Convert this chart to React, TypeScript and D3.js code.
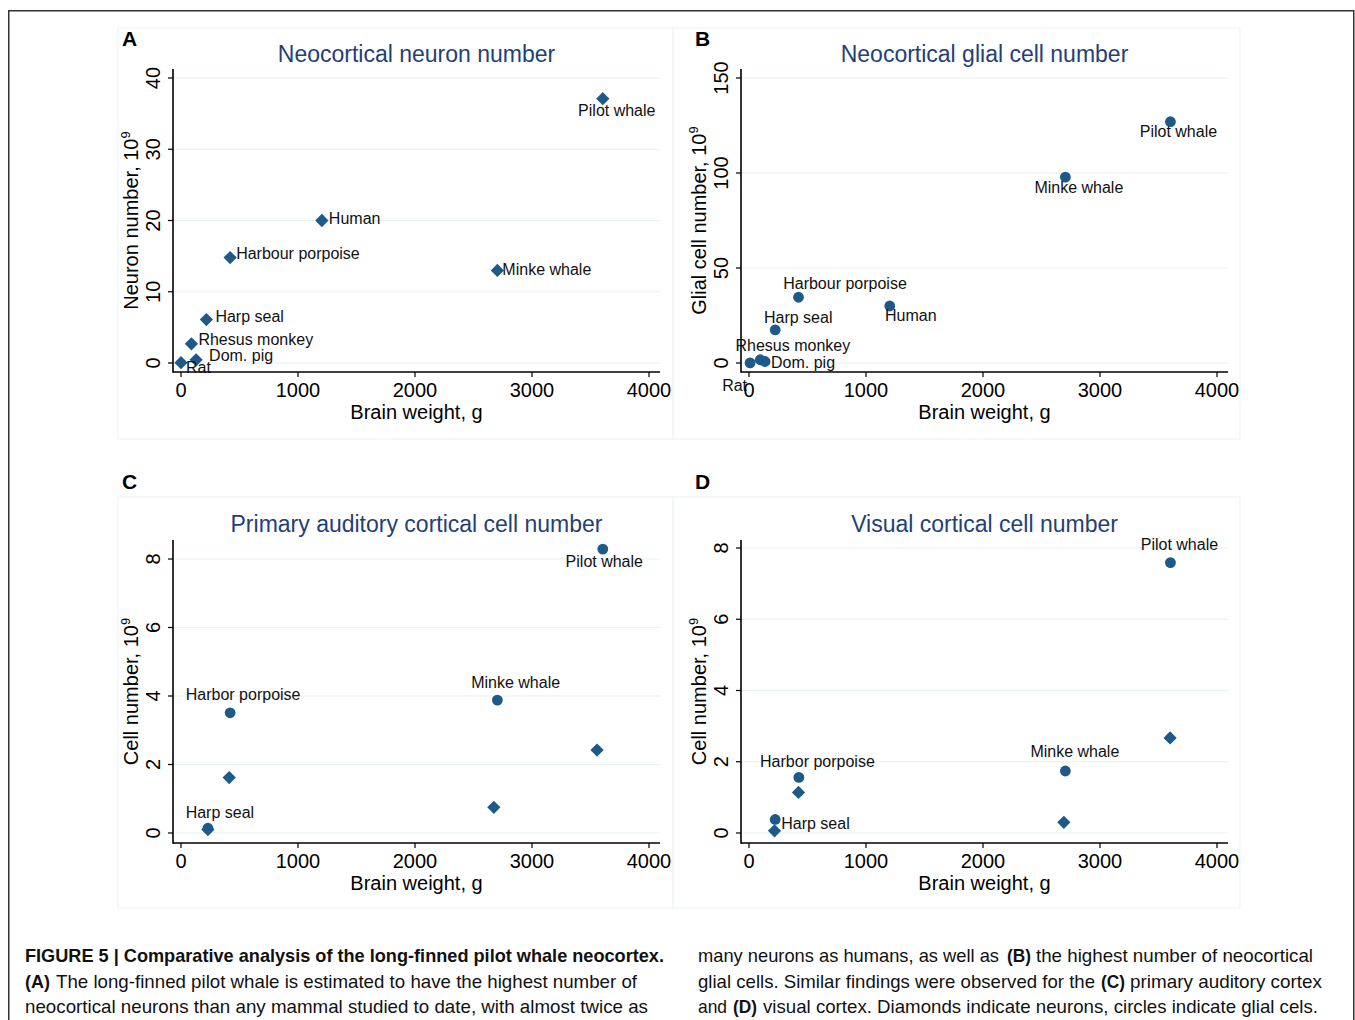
import React from "react";
import * as d3 from "d3";

// ---------- DATA ----------
const speciesAB = ["Rat", "Rhesus monkey", "Dom. pig", "Harp seal", "Harbour porpoise", "Human", "Minke whale", "Pilot whale"];
const brainWeightA = [0, 89, 129, 217, 420, 1204, 2704, 3605];
const neuronsA = [0.05, 2.7, 0.45, 6.1, 14.8, 20.0, 13.0, 37.1];
const brainWeightB = [9, 96, 137, 224, 423, 1203, 2704, 3602];
const gliaB = [0.1, 1.7, 0.8, 17.4, 34.6, 30.0, 97.8, 127.0];

const speciesCD = ["Harp seal", "Harbor porpoise", "Minke whale", "Pilot whale"];
const brainWeightGliaC = [230, 420, 2704, 3605];
const gliaC = [0.14, 3.51, 3.88, 8.29];
const brainWeightNeuronC = [230, 412, 2674, 3556];
const neuronsC = [0.1, 1.62, 0.75, 2.42];

const brainWeightGliaD = [224, 426, 2704, 3602];
const gliaD = [0.38, 1.56, 1.74, 7.59];
const brainWeightNeuronD = [218, 423, 2691, 3599];
const neuronsD = [0.06, 1.14, 0.3, 2.67];

const xTicks = [0, 1000, 2000, 3000, 4000];
const yTicksA = [0, 10, 20, 30, 40];
const yTicksB = [0, 50, 100, 150];
const yTicksCD = [0, 2, 4, 6, 8];

// label placement (dx, dy in px from marker, anchor) - like Stata mlabpos
const labelPlaceA: [number, number, string][] = [
  [5, 5, "start"], [7, -4, "start"], [13, -4, "start"], [9, -3, "start"],
  [6, -4, "start"], [7, -2, "start"], [5, -1, "start"], [14, 12, "middle"],
];
const labelPlaceB: [number, number, string][] = [
  [-3, 23, "end"], [32.6, -14, "middle"], [6, 1.3, "start"], [23, -12.3, "middle"],
  [46.5, -14.3, "middle"], [21, 9, "middle"], [13.5, 10.7, "middle"], [8, 10, "middle"],
];
const labelPlaceC: [number, number, string][] = [
  [12, -16, "middle"], [13, -18.4, "middle"], [18.3, -17.3, "middle"], [1.5, 12.3, "middle"],
];
const labelPlaceD: [number, number, string][] = [
  [6, 3.6, "start"], [18.6, -16, "middle"], [9.5, -19.3, "middle"], [9, -18, "middle"],
];

// caption segments: [text, bold, x start, width, baseline y]
const captionSegments: [string, boolean, number, number, number][] = [
  ["FIGURE 5 | Comparative analysis of the long-finned pilot whale neocortex.", true, 25, 639, 962],
  ["(A)", true, 25, 25, 988],
  ["The long-finned pilot whale is estimated to have the highest number of", false, 56, 581, 988],
  ["neocortical neurons than any mammal studied to date, with almost twice as", false, 25, 623, 1013],
  ["many neurons as humans, as well as", false, 698, 301, 962],
  ["(B)", true, 1007, 24, 962],
  ["the highest number of neocortical", false, 1036, 277, 962],
  ["glial cells. Similar findings were observed for the", false, 698, 397, 988],
  ["(C)", true, 1101, 24, 988],
  ["primary auditory cortex", false, 1130, 192, 988],
  ["and", false, 698, 29, 1013],
  ["(D)", true, 733, 24, 1013],
  ["visual cortex. Diamonds indicate neurons, circles indicate glial cels.", false, 763, 555, 1013],
];

// ---------- STYLE ----------
const FONT = "'Liberation Sans', Arial, Helvetica, sans-serif";
const MARK = "#1d5a8a";
const TITLE = "#1f4177";
const GRID = "#e6eff1";
const PANEL_BORDER = "#edf3f5";

type Pt = { x: number; y: number; shape: "circle" | "diamond"; label?: string; place?: [number, number, string] };

type PanelProps = {
  letter: string;
  letterX: number;
  letterY: number;
  frame: [number, number, number, number];
  title: string;
  titleY: number;
  yTitle: string;
  axisLeft: number;
  axisRight: number;
  axisTop: number;
  axisBottom: number;
  xPx: [number, number];
  yPx: [number, number];
  yMax: number;
  yTicks: number[];
  yTickLabelX: number;
  yTitleX: number;
  points: Pt[];
};

const diamondPath = d3.symbol().type(d3.symbolSquare).size(88)() as string;

function Panel(p: PanelProps) {
  const x = d3.scaleLinear().domain([0, 4000]).range(p.xPx);
  const y = d3.scaleLinear().domain([0, p.yMax]).range(p.yPx);
  const cx = (p.axisLeft + p.axisRight) / 2;
  const cy = (p.axisTop + p.axisBottom) / 2;
  const circles = p.points.filter((d) => d.shape === "circle");
  const diamonds = p.points.filter((d) => d.shape === "diamond");
  return (
    <g fontFamily={FONT}>
      <rect x={p.frame[0]} y={p.frame[1]} width={p.frame[2]} height={p.frame[3]} fill="none" stroke={PANEL_BORDER} strokeWidth={1} />
      <text x={p.letterX} y={p.letterY} fontSize={21} fontWeight="bold" fill="#000">{p.letter}</text>
      <text x={cx} y={p.titleY} fontSize={23} fill={TITLE} textAnchor="middle">{p.title}</text>
      {p.yTicks.map((t) => (
        <line key={"g" + t} x1={p.axisLeft} x2={p.axisRight} y1={y(t)} y2={y(t)} stroke={GRID} strokeWidth={1.2} />
      ))}
      <line x1={p.axisLeft} x2={p.axisLeft} y1={p.axisTop} y2={p.axisBottom + 0.75} stroke="#000" strokeWidth={1.6} />
      <line x1={p.axisLeft} x2={p.axisRight} y1={p.axisBottom} y2={p.axisBottom} stroke="#000" strokeWidth={1.6} />
      {p.yTicks.map((t) => (
        <g key={"y" + t}>
          <line x1={p.axisLeft - 5} x2={p.axisLeft} y1={y(t)} y2={y(t)} stroke="#000" strokeWidth={1.2} />
          <text transform={`translate(${p.yTickLabelX},${y(t)}) rotate(-90)`} textAnchor="middle" fontSize={20} fill="#000">{t}</text>
        </g>
      ))}
      {xTicks.map((t) => (
        <g key={"x" + t}>
          <line x1={x(t)} x2={x(t)} y1={p.axisBottom} y2={p.axisBottom + 5} stroke="#000" strokeWidth={1.2} />
          <text x={x(t)} y={p.axisBottom + 25} textAnchor="middle" fontSize={20} fill="#000">{t}</text>
        </g>
      ))}
      <text x={cx} y={p.axisBottom + 47} textAnchor="middle" fontSize={20} fill="#000">Brain weight, g</text>
      <text transform={`translate(${p.yTitleX},${cy}) rotate(-90)`} textAnchor="middle" fontSize={20} fill="#000">
        {p.yTitle}
        <tspan fontSize={13} dy={-8}>9</tspan>
      </text>
      {circles.map((d, i) => (
        <circle key={"c" + i} cx={x(d.x)} cy={y(d.y)} r={5.4} fill={MARK} />
      ))}
      {diamonds.map((d, i) => (
        <path key={"d" + i} d={diamondPath} transform={`translate(${x(d.x)},${y(d.y)}) rotate(45)`} fill={MARK} />
      ))}
      {p.points
        .filter((d) => d.label && d.place)
        .map((d, i) => (
          <text key={"l" + i} x={x(d.x) + d.place![0]} y={y(d.y) + d.place![1]} dy="0.35em" textAnchor={d.place![2] as any} fontSize={16} fill="#111">
            {d.label}
          </text>
        ))}
    </g>
  );
}

function pointsAB(xs: number[], ys: number[], shape: "circle" | "diamond", places: [number, number, string][]): Pt[] {
  return speciesAB.map((s, i) => ({ x: xs[i], y: ys[i], shape, label: s, place: places[i] }));
}
function pointsCD(gx: number[], gy: number[], nx: number[], ny: number[], places: [number, number, string][]): Pt[] {
  const g: Pt[] = speciesCD.map((s, i) => ({ x: gx[i], y: gy[i], shape: "circle", label: s, place: places[i] }));
  const n: Pt[] = speciesCD.map((s, i) => ({ x: nx[i], y: ny[i], shape: "diamond" }));
  return [...g, ...n];
}

const CAP_FONT = "'Liberation Sans Narrow', 'Arial Narrow', 'Liberation Sans', sans-serif";

export default function App() {
  return (
    <svg width={1355} height={1020} style={{ position: "absolute", left: 0, top: 0, background: "#fff" }}>
      <rect x={8.75} y={10.75} width={1345} height={1030} fill="#fff" stroke="#333" strokeWidth={1.5} />
      <Panel
        letter="A" letterX={122} letterY={46} frame={[118, 28, 555, 411]}
        title="Neocortical neuron number" titleY={62} yTitle="Neuron number, 10"
        axisLeft={173} axisRight={660} axisTop={69} axisBottom={372}
        xPx={[181, 649]} yPx={[363, 78]} yMax={40} yTicks={yTicksA}
        yTickLabelX={160} yTitleX={138}
        points={pointsAB(brainWeightA, neuronsA, "diamond", labelPlaceA)}
      />
      <Panel
        letter="B" letterX={695} letterY={46} frame={[673, 28, 567, 411]}
        title="Neocortical glial cell number" titleY={62} yTitle="Glial cell number, 10"
        axisLeft={741} axisRight={1228} axisTop={69} axisBottom={372}
        xPx={[749, 1217]} yPx={[363, 78]} yMax={150} yTicks={yTicksB}
        yTickLabelX={728} yTitleX={706}
        points={pointsAB(brainWeightB, gliaB, "circle", labelPlaceB)}
      />
      <Panel
        letter="C" letterX={122} letterY={489} frame={[118, 497, 555, 411]}
        title="Primary auditory cortical cell number" titleY={532} yTitle="Cell number, 10"
        axisLeft={173} axisRight={660} axisTop={540} axisBottom={843}
        xPx={[181, 649]} yPx={[833, 559]} yMax={8} yTicks={yTicksCD}
        yTickLabelX={160} yTitleX={138}
        points={pointsCD(brainWeightGliaC, gliaC, brainWeightNeuronC, neuronsC, labelPlaceC)}
      />
      <Panel
        letter="D" letterX={695} letterY={489} frame={[673, 497, 567, 411]}
        title="Visual cortical cell number" titleY={532} yTitle="Cell number, 10"
        axisLeft={741} axisRight={1228} axisTop={540} axisBottom={843}
        xPx={[749, 1217]} yPx={[833, 548]} yMax={8} yTicks={yTicksCD}
        yTickLabelX={728} yTitleX={706}
        points={pointsCD(brainWeightGliaD, gliaD, brainWeightNeuronD, neuronsD, labelPlaceD)}
      />
      <g fontFamily={CAP_FONT} fontSize={19} fill="#111">
        {captionSegments.map(([t, bold, sx, w, by], i) => (
          <text key={i} x={sx} y={by} textLength={w} lengthAdjust="spacingAndGlyphs" fontWeight={bold ? "bold" : "normal"}>
            {t}
          </text>
        ))}
      </g>
    </svg>
  );
}
